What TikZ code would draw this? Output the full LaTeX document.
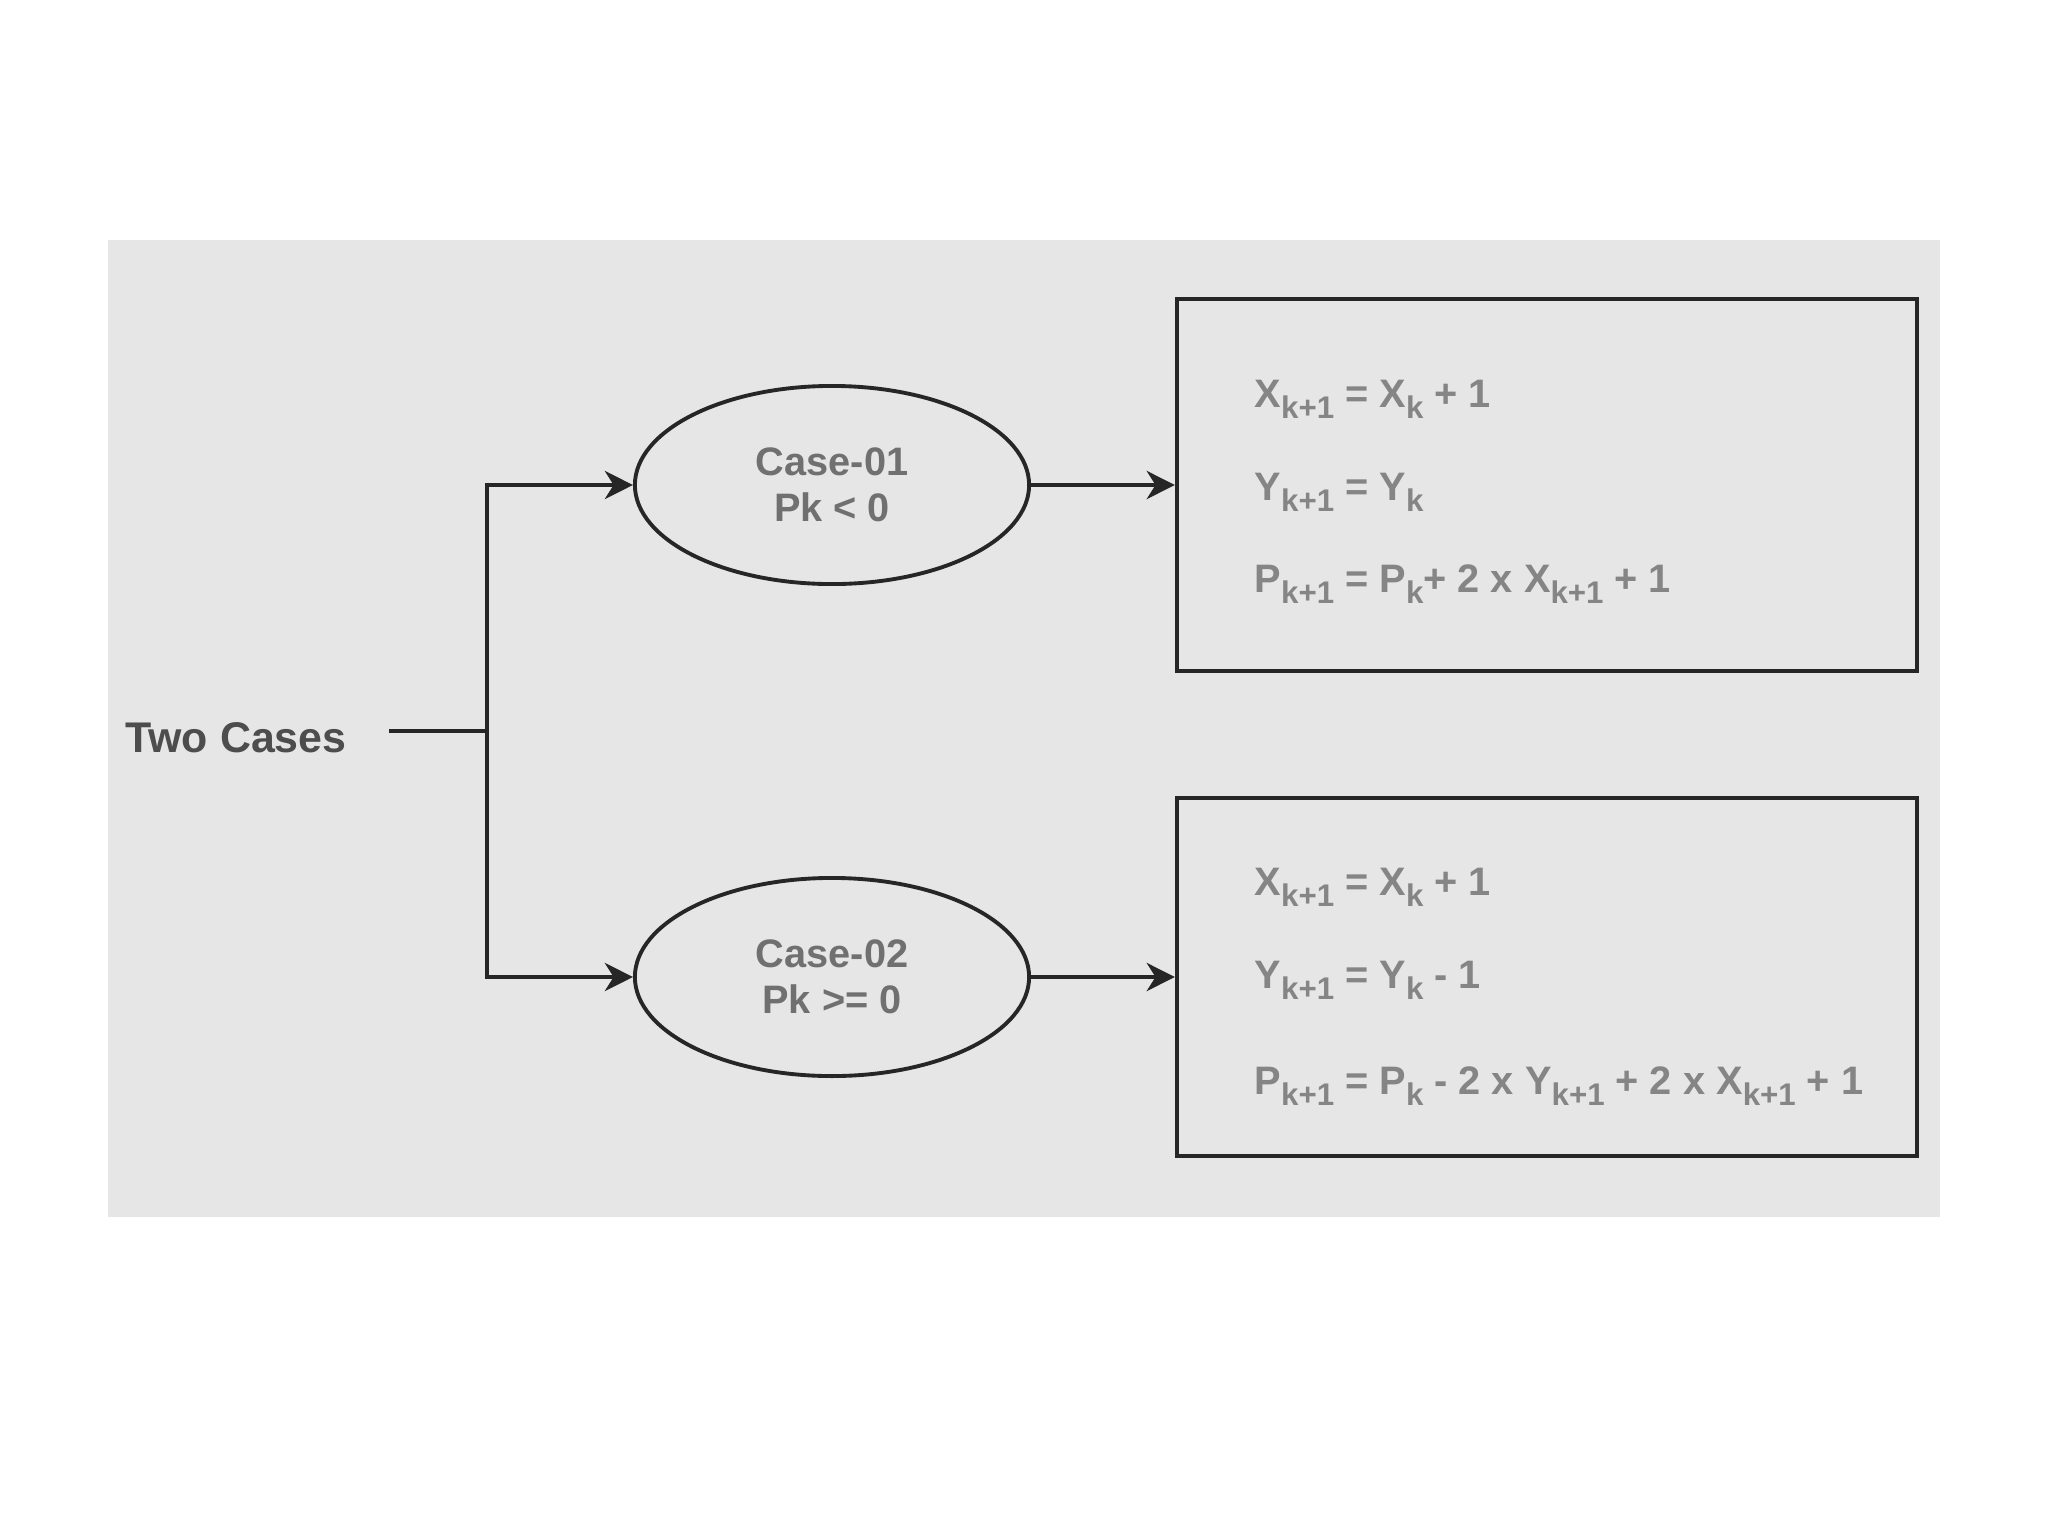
\documentclass[tikz,border=0pt]{standalone}
\usepackage{fontspec}
\setmainfont{Liberation Sans}
\usepackage{xcolor}
\usetikzlibrary{shapes,arrows.meta,positioning}
\definecolor{bggray}{HTML}{E6E6E6}
\definecolor{linegray}{HTML}{262626}
\definecolor{eqgray}{HTML}{858585}
\definecolor{casegray}{HTML}{707070}
\definecolor{titlegray}{HTML}{4D4D4D}
\newcommand{\lo}[1]{\raisebox{-0.55ex}{\fontsize{8.9}{8.9}\selectfont #1}}

\begin{document}
\begin{tikzpicture}[x=0.01cm, y=-0.01cm,
    every node/.style={font=\bfseries\fontsize{11.3}{13}\selectfont},
    line/.style={draw=linegray, line width=1.1pt},
    arr/.style={line, -{Stealth[length=8pt, width=8pt, inset=2.5pt]}},
    case/.style={ellipse, line, minimum width=3.94cm, minimum height=1.98cm, text=casegray, align=center, inner sep=0pt},
    result/.style={rectangle, line, minimum width=7.4cm},
    eq/.style={anchor=base west, text=eqgray, inner sep=0pt}]
    \useasboundingbox (0,0) rectangle (2048,1536);
    \fill[bggray] (108,240) rectangle (1940,1217);

    \node[text=titlegray, font=\bfseries\fontsize{12.2}{14}\selectfont] (two) at (236,738) {Two Cases};
    \node[case] (case1) at (832,485) {Case-01\\Pk < 0};
    \node[case] (case2) at (832,977) {Case-02\\Pk >= 0};
    \node[result, minimum height=3.71cm] (res1) at (1547,485) {};
    \node[result, minimum height=3.58cm] (res2) at (1547,977) {};

    % first case
    \node[eq] (x1) at (1254,407) {X\lo{k+1} = X\lo{k} + 1};
    \node[eq] (y1) at (1254,500) {Y\lo{k+1} = Y\lo{k}};
    \node[eq] (p1) at (1254,592) {P\lo{k+1} = P\lo{k}+ 2 x X\lo{k+1} + 1};

    % second case
    \node[eq] (x2) at (1254,895) {X\lo{k+1} = X\lo{k} + 1};
    \node[eq] (y2) at (1254,988) {Y\lo{k+1} = Y\lo{k} - 1};
    \node[eq] (p2) at (1254,1094) {P\lo{k+1} = P\lo{k} - 2 x Y\lo{k+1} + 2 x X\lo{k+1} + 1};

    \coordinate (stem) at (389,731);
    \coordinate (split) at (487,731);
    \draw[line] (stem) -- (split);
    \draw[arr] (split) |- (case1.west);
    \draw[arr] (split) |- (case2.west);
    \draw[arr] (case1) -- (res1);
    \draw[arr] (case2) -- (res2);
\end{tikzpicture}
\end{document}
